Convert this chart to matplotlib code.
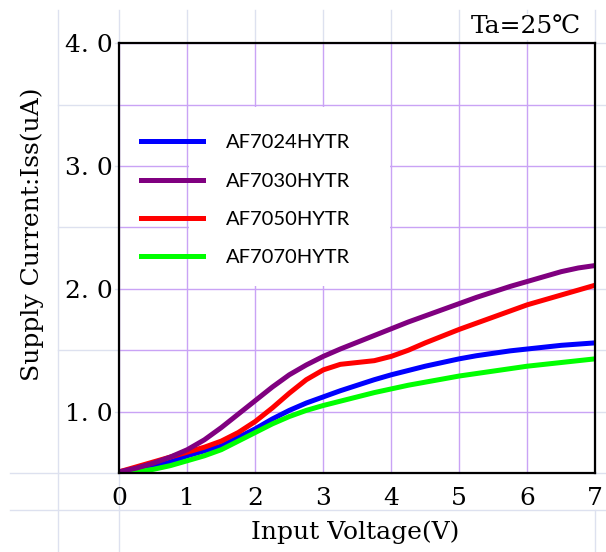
import matplotlib
matplotlib.use("Agg")
import matplotlib.pyplot as plt
import matplotlib.transforms as mtransforms
from matplotlib.lines import Line2D
from matplotlib.patches import Rectangle

# ---------------- data ----------------
voltage = [0, 0.25, 0.5, 0.75, 1, 1.25, 1.5, 1.75, 2, 2.25, 2.5, 2.75, 3, 3.25, 3.5,
           3.75, 4, 4.25, 4.5, 4.75, 5, 5.25, 5.5, 5.75, 6, 6.25, 6.5, 6.75, 7]
af7024 = [0.50, 0.52, 0.55, 0.59, 0.64, 0.68, 0.72, 0.79, 0.86, 0.94, 1.01, 1.07, 1.12, 1.17, 1.215,
          1.26, 1.30, 1.335, 1.37, 1.40, 1.43, 1.455, 1.475, 1.495, 1.51, 1.525, 1.54, 1.55, 1.56]
af7030 = [0.51, 0.54, 0.58, 0.63, 0.69, 0.77, 0.87, 0.98, 1.09, 1.20, 1.30, 1.38, 1.45, 1.51, 1.565,
          1.62, 1.675, 1.73, 1.78, 1.83, 1.88, 1.93, 1.975, 2.02, 2.06, 2.10, 2.14, 2.17, 2.19]
af7050 = [0.51, 0.55, 0.59, 0.63, 0.67, 0.71, 0.76, 0.83, 0.92, 1.03, 1.15, 1.26, 1.34, 1.385, 1.40,
          1.415, 1.45, 1.50, 1.56, 1.615, 1.67, 1.72, 1.77, 1.82, 1.87, 1.91, 1.95, 1.99, 2.03]
af7070 = [0.49, 0.51, 0.53, 0.56, 0.60, 0.64, 0.69, 0.76, 0.83, 0.90, 0.96, 1.01, 1.05, 1.085, 1.12,
          1.155, 1.185, 1.215, 1.24, 1.265, 1.29, 1.31, 1.33, 1.35, 1.37, 1.385, 1.40, 1.415, 1.43]

series_names = ["AF7024HYTR", "AF7030HYTR", "AF7050HYTR", "AF7070HYTR"]
series_colors = ["#0000ff", "#800080", "#ff0000", "#00ff00"]

x_ticks = [0, 1, 2, 3, 4, 5, 6, 7]
x_tick_labels = ["0", "1", "2", "3", "4", "5", "6", "7"]
y_ticks = [0.5, 1.0, 1.5, 2.0, 2.5, 3.0, 3.5, 4.0]
y_tick_labels = ["", "1. 0", "", "2. 0", "", "3. 0", "", "4. 0"]

x_label = "Input Voltage(V)"
y_label = "Supply Current:Iss(uA)"
note = "Ta=25℃"

# ---------------- figure ----------------
serif = ["DejaVu Serif", "DejaVu Sans", "Noto Sans CJK SC"]
plt.rcParams["font.family"] = serif

fig = plt.figure(figsize=(6.06, 5.52), dpi=100)
ax = fig.add_axes([0.1969, 0.1431, 0.7854, 0.7785])
ax.set_xlim(0, 7)
ax.set_ylim(0.5, 4.0)

ax.set_axisbelow(True)
ax.grid(True, color="#c9a3f5", lw=1.0)
ax.set_xticks(x_ticks)
ax.set_xticklabels(x_tick_labels)
ax.set_yticks(y_ticks)
ax.set_yticklabels(y_tick_labels)
ax.tick_params(axis="both", length=0, labelsize=18)
ax.tick_params(axis="x", pad=10)
ax.tick_params(axis="y", pad=4.5)
for s in ax.spines.values():
    s.set_linewidth(1.6)
    s.set_color("black")

# white cell behind legend text
ax.add_patch(Rectangle((1.02, 2.02), 2.96, 1.46, facecolor="white",
                       edgecolor="none", zorder=0.8))

lw = 3.6
l24, = ax.plot(voltage, af7024, color=series_colors[0], lw=lw, label=series_names[0], zorder=2)
l50, = ax.plot(voltage, af7050, color=series_colors[2], lw=lw, label=series_names[2], zorder=2.1)
l70, = ax.plot(voltage, af7070, color=series_colors[3], lw=lw, label=series_names[3], zorder=2.2)
l30, = ax.plot(voltage, af7030, color=series_colors[1], lw=lw, label=series_names[1], zorder=2.3)

ax.legend([l24, l30, l50, l70], series_names, loc="upper left",
          bbox_to_anchor=(0.0456, 0.788), frameon=False,
          prop={"family": "Lato", "size": 14.5}, handlelength=3.1,
          handletextpad=1.1, labelspacing=1.05, borderpad=0, borderaxespad=0)

ax.set_xlabel(x_label, fontsize=18, va="center")
ax.xaxis.set_label_coords(0.496, -0.138)
ax.set_ylabel(y_label, fontsize=18, va="center")
ax.yaxis.set_label_coords(-0.182, 0.555)

ax.text(0.8544, 1.038, note, transform=ax.transAxes, ha="center", va="center",
        fontsize=18, bbox=dict(facecolor="white", edgecolor="none", pad=1))

# ---------------- background sheet grid ----------------
gc = "#dde1ef"
tv = mtransforms.blended_transform_factory(ax.transData, fig.transFigure)
th = mtransforms.blended_transform_factory(fig.transFigure, ax.transData)
top_f = 1 - 10 / 552
ax_bot = 0.1431
row_f = 1 - 510 / 552
left_col = 58 / 606
far_left = 10 / 606


def add_line(xs, ys, tr):
    fig.add_artist(Line2D(xs, ys, transform=tr, color=gc, lw=1.0, zorder=-1))


for xv in x_ticks:
    add_line([xv, xv], [ax_bot, top_f], tv)
add_line([0, 0], [0, ax_bot], tv)
add_line([7, 7], [0, row_f], tv)
add_line([left_col, left_col], [0, top_f], fig.transFigure)
for yv, lab in zip(y_ticks, y_tick_labels):
    if yv == y_ticks[0]:
        add_line([far_left, 1], [yv, yv], th)
    elif lab == "":
        add_line([left_col, 1], [yv, yv], th)
    else:
        add_line([0.19, 1], [yv, yv], th)
add_line([far_left, 1], [row_f, row_f], fig.transFigure)

fig.savefig("out.png", dpi=100)
